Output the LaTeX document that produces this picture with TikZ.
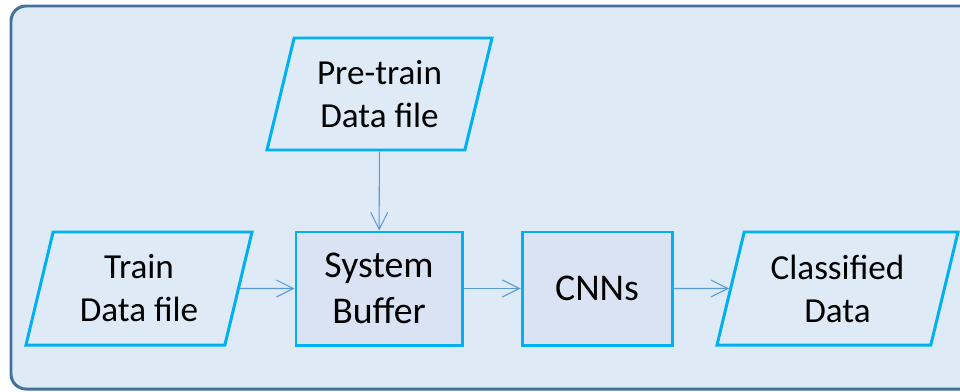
\documentclass[tikz,border=0pt]{standalone}
\usepackage{fontspec}
\setmainfont{Carlito}
\definecolor{panel}{HTML}{DEEBF7}
\definecolor{panelline}{HTML}{41719C}
\definecolor{cyanline}{HTML}{00B0F0}
\definecolor{procfill}{HTML}{DAE3F3}
\definecolor{flow}{HTML}{5B9BD5}
\usetikzlibrary{shapes.geometric, arrows.meta}

\begin{document}
\begin{tikzpicture}[
  proc/.style={draw=cyanline, fill=procfill, line width=1.7pt, rectangle,
               minimum height=2.26cm, align=center,
               font=\fontsize{21.5}{26}\selectfont, inner sep=2pt},
  io/.style={draw=cyanline, line width=1.7pt, trapezium,
             trapezium left angle=70, trapezium right angle=110,
             trapezium stretches body=true,
             minimum height=2.26cm, align=center,
             font=\fontsize{20}{24.5}\selectfont, inner sep=2pt},
  link/.style={draw=flow, line width=0.6pt,
               -{Straight Barb[length=3.4mm, width=3.4mm]}},
]
\useasboundingbox (0,0) rectangle (19.2,-7.82);
\draw[draw=panelline, fill=panel, line width=1.7pt, rounded corners=0.3cm]
  (0.22,-0.12) rectangle (19.8,-7.78);

\node[io, minimum width=4.5cm, minimum height=2.24cm] (pretrain) at (7.59,-1.88) {Pre-train\\Data file};
\node[io, minimum width=4.52cm] (train) at (2.78,-5.77) {Train\\Data file};
\node[proc, minimum width=3.32cm] (buffer) at (7.58,-5.77) {System\\Buffer};
\node[proc, minimum width=3.0cm] (cnn) at (11.94,-5.77) {CNNs};
\node[io, minimum width=4.82cm] (classified) at (16.75,-5.77) {Classified\\Data};

\draw[link] (pretrain) -- (buffer);
\draw[link] (train.east) -- (buffer.west);
\draw[link] (buffer) -- (cnn);
\draw[link] (cnn) -- (classified.west);
\end{tikzpicture}
\end{document}
